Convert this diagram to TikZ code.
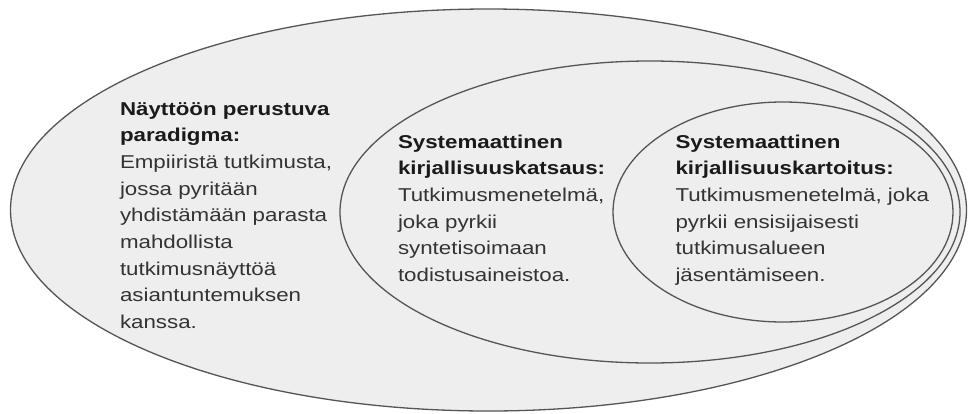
\documentclass[tikz,border=0pt]{standalone}
\usepackage{fontspec}
\setmainfont{Liberation Sans}[FakeStretch=1.2]
\usetikzlibrary{shapes.geometric}
\definecolor{regionfill}{HTML}{EEEEEE}
\definecolor{regionline}{HTML}{555555}
\definecolor{headcol}{HTML}{1A1A1A}
\definecolor{bodycol}{HTML}{333333}
\tikzset{
  region/.style={ellipse, draw=regionline, fill=regionfill, line width=1.3pt, inner sep=0pt, outer sep=0pt},
  label text/.style={anchor=north west, inner sep=0pt, outer sep=0pt, align=left,
    text=bodycol, font={\fontsize{18.6pt}{26.7pt}\selectfont}},
}
\newcommand{\headline}[1]{\textcolor{headcol}{\bfseries #1}}
\newcommand{\firststrut}{\rule{0pt}{14pt}}
\begin{document}
\begin{tikzpicture}[x=1pt, y=-1pt]
  \useasboundingbox (0,0) rectangle (971,413);
  \fill[white] (0,0) rectangle (971,413);

  % nested regions
  \node[region, minimum width=956pt, minimum height=402pt] (paradigm) at (488.5,210) {};
  \node[region, minimum width=620pt, minimum height=302pt] (review) at (650,212) {};
  \node[region, minimum width=340pt, minimum height=220pt] (mapping) at (783,212) {};

  % descriptions
  \node[label text] (paradigmtext) at (120,101) {\firststrut\headline{Näyttöön perustuva}\\
    \headline{paradigma:}\\
    Empiiristä tutkimusta,\\
    jossa pyritään\\
    yhdistämään parasta\\
    mahdollista\\
    tutkimusnäyttöä\\
    asiantuntemuksen\\
    kanssa.};
  \node[label text] (reviewtext) at (398,134) {\firststrut\headline{Systemaattinen}\\
    \headline{kirjallisuuskatsaus:}\\
    Tutkimusmenetelmä,\\
    joka pyrkii\\
    syntetisoimaan\\
    todistusaineistoa.};
  \node[label text] (mappingtext) at (675.5,134) {\firststrut\headline{Systemaattinen}\\
    \headline{kirjallisuuskartoitus:}\\
    Tutkimusmenetelmä, joka\\
    pyrkii ensisijaisesti\\
    tutkimusalueen\\
    jäsentämiseen.};
\end{tikzpicture}
\end{document}
